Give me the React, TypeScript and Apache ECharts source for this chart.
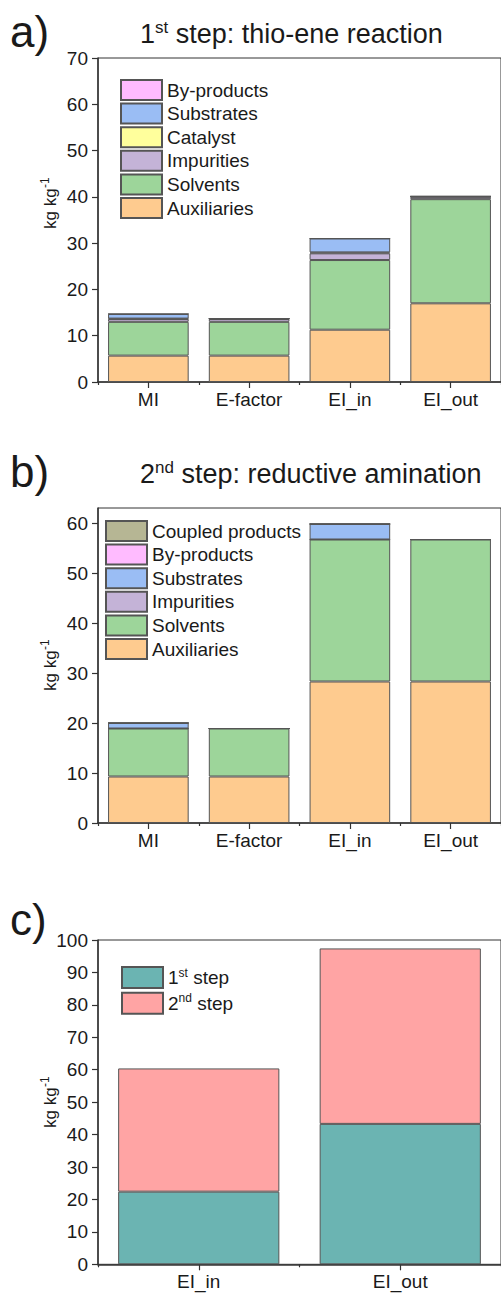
import React, { useEffect, useRef } from 'react';
import * as echarts from 'echarts';

const FONT = '"Liberation Sans", Arial, Helvetica, sans-serif';
const TXT = '#1a1a1a';
const EDGE = '#555555';
const AXIS = '#333333';

// ---------- data ----------
const catsAB = ['MI', 'E-factor', 'EI_in', 'EI_out'];
const catsC = ['EI_in', 'EI_out'];

// panel a) 1st step: thio-ene reaction (kg kg-1)
const aAuxiliaries = [5.7, 5.7, 11.3, 17.0];
const aSolvents = [7.3, 7.3, 15.05, 22.5];
const aImpurities = [0.6, 0.6, 1.45, 0.5];
const aCatalyst = [0.1, 0.1, 0.2, 0.1];
const aSubstrates = [1.0, 0, 3.0, 0];
const aByproducts = [0, 0, 0, 0];

// panel b) 2nd step: reductive amination
const bAuxiliaries = [9.3, 9.3, 28.3, 28.3];
const bSolvents = [9.6, 9.6, 28.4, 28.4];
const bImpurities = [0, 0, 0, 0];
const bSubstrates = [1.1, 0, 3.1, 0];
const bByproducts = [0, 0, 0, 0];
const bCoupled = [0, 0, 0, 0];

// panel c) steps
const cStep1 = [22.4, 43.3];
const cStep2 = [38.0, 54.1];

// axes
const yMax = [70, 63, 100];
const majorTicks = [
  [0, 10, 20, 30, 40, 50, 60, 70],
  [0, 10, 20, 30, 40, 50, 60],
  [0, 10, 20, 30, 40, 50, 60, 70, 80, 90, 100],
];
const minorTicks = [
  [5, 15, 25, 35, 45, 55, 65],
  [5, 15, 25, 35, 45, 55],
  [5, 15, 25, 35, 45, 55, 65, 75, 85, 95],
];

const legendA = ['By-products', 'Substrates', 'Catalyst', 'Impurities', 'Solvents', 'Auxiliaries'];
const legendB = ['Coupled products', 'By-products', 'Substrates', 'Impurities', 'Solvents', 'Auxiliaries'];
const legendC = ['1st step', '2nd step'];

const COL: Record<string, string> = {
  Auxiliaries: '#FECB8F',
  Solvents: '#9DD59A',
  Impurities: '#C4B3D7',
  Catalyst: '#FFFF9C',
  Substrates: '#9ABDF4',
  'By-products': '#FFBBFF',
  'Coupled products': '#B6B694',
  '1st step': '#6BB4B2',
  '2nd step': '#FFA4A4',
};

const GRIDS = [
  { left: 98, top: 58, width: 405, height: 324 },
  { left: 98, top: 508, width: 405, height: 315 },
  { left: 98, top: 940, width: 405, height: 324.3 },
];

function bar(name: string, data: number[], gi: number) {
  return {
    type: 'bar',
    name,
    data,
    stack: 's' + gi,
    xAxisIndex: gi * 2,
    yAxisIndex: gi * 2,
    barWidth: '80%',
    itemStyle: { color: COL[name], borderColor: EDGE, borderWidth: 1 },
    emphasis: { disabled: true },
  };
}

function txt(x: number, y: number, text: string, fs: number) {
  return {
    type: 'text',
    x,
    y,
    silent: true,
    style: {
      text,
      fontSize: fs,
      fontFamily: FONT,
      fill: TXT,
      align: 'left',
      verticalAlign: 'middle',
      textAlign: 'left',
      textVerticalAlign: 'middle',
    },
  };
}

function axisName(cx: number, bottomY: number) {
  return {
    type: 'group',
    x: cx,
    y: bottomY,
    rotation: Math.PI / 2,
    children: [txt(0, 0, 'kg kg', 17), txt(41, -5.5, '-1', 12)],
  };
}

function buildOption() {
  const xAxis: any[] = [];
  const yAxis: any[] = [];
  [catsAB, catsAB, catsC].forEach((cats, gi) => {
    xAxis.push({
      type: 'category',
      gridIndex: gi,
      data: cats,
      position: 'bottom',
      axisLine: { show: true, lineStyle: { color: AXIS, width: 1.5 } },
      axisTick: { show: true, alignWithLabel: true, length: 6, lineStyle: { color: AXIS, width: 1.2 } },
      axisLabel: { fontSize: 19, color: TXT, fontFamily: FONT, margin: 8 },
    });
    xAxis.push({
      type: 'category',
      gridIndex: gi,
      data: cats,
      position: 'bottom',
      axisLine: { show: false },
      axisTick: { show: true, alignWithLabel: false, length: 3, lineStyle: { color: AXIS, width: 1.2 } },
      axisLabel: { show: false },
    });
    yAxis.push({
      type: 'value',
      gridIndex: gi,
      min: 0,
      max: yMax[gi],
      interval: 10,
      axisLine: { show: true, lineStyle: { color: AXIS, width: 1.5 } },
      axisTick: { show: true, length: 6, customValues: majorTicks[gi], lineStyle: { color: AXIS, width: 1.2 } },
      axisLabel: { fontSize: 19, color: TXT, fontFamily: FONT, margin: 10, customValues: majorTicks[gi] },
      splitLine: { show: false },
    });
    yAxis.push({
      type: 'value',
      gridIndex: gi,
      min: 0,
      max: yMax[gi],
      interval: 5,
      axisLine: { show: false },
      axisTick: { show: true, length: 3, customValues: minorTicks[gi], lineStyle: { color: AXIS, width: 1.2 } },
      axisLabel: { show: false },
      splitLine: { show: false },
    });
  });

  const series = [
    bar('Auxiliaries', aAuxiliaries, 0),
    bar('Solvents', aSolvents, 0),
    bar('Impurities', aImpurities, 0),
    bar('Catalyst', aCatalyst, 0),
    bar('Substrates', aSubstrates, 0),
    bar('By-products', aByproducts, 0),
    bar('Auxiliaries', bAuxiliaries, 1),
    bar('Solvents', bSolvents, 1),
    bar('Impurities', bImpurities, 1),
    bar('Substrates', bSubstrates, 1),
    bar('By-products', bByproducts, 1),
    bar('Coupled products', bCoupled, 1),
    bar('1st step', cStep1, 2),
    bar('2nd step', cStep2, 2),
  ];

  const legBase = {
    orient: 'vertical',
    icon: 'rect',
    itemWidth: 41,
    itemHeight: 20,
    itemGap: 1.6,
    selectedMode: false,
    padding: 0,
    textStyle: { fontSize: 19, color: TXT, fontFamily: FONT, lineHeight: 20 },
  };

  return {
    animation: false,
    backgroundColor: '#ffffff',
    textStyle: { fontFamily: FONT },
    grid: GRIDS.map((g) => ({ ...g, show: true, borderColor: AXIS, borderWidth: 1, backgroundColor: 'transparent', containLabel: false })),
    xAxis,
    yAxis,
    legend: [
      { ...legBase, left: 120, top: 79, data: legendA },
      { ...legBase, left: 105, top: 520, data: legendB },
      {
        ...legBase,
        left: 121,
        top: 966,
        itemHeight: 21,
        itemGap: 2.7,
        data: legendC,
        formatter: (n: string) => (n === '1st step' ? '1{sup|st} step' : '2{sup|nd} step'),
        textStyle: {
          fontSize: 19,
          color: TXT,
          fontFamily: FONT,
          lineHeight: 22,
          rich: { sup: { fontSize: 12, lineHeight: 14, verticalAlign: 'top', color: TXT, fontFamily: FONT } },
        },
      },
    ],
    graphic: [
      txt(10, 31.3, 'a)', 44),
      txt(10, 471.3, 'b)', 44),
      txt(10, 919.6, 'c)', 44),
      txt(140, 33.5, '1', 27),
      txt(155, 27.4, 'st', 17),
      txt(168.2, 33.5, ' step: thio-ene reaction', 27),
      txt(140, 473.9, '2', 27),
      txt(155, 467.3, 'nd', 17),
      txt(173.9, 473.9, ' step: reductive amination', 27),
      axisName(50, 229),
      axisName(50, 691),
      axisName(50, 1128),
    ],
    series,
  };
}

export default function App() {
  const ref = useRef<HTMLDivElement>(null);
  useEffect(() => {
    if (!ref.current) return;
    const chart = echarts.init(ref.current, null, { renderer: 'svg' });
    chart.setOption(buildOption() as any);
    return () => chart.dispose();
  }, []);
  return (
    <div
      ref={ref}
      style={{ position: 'absolute', left: 0, top: 0, width: 501, height: 1296, background: '#fff' }}
    />
  );
}
